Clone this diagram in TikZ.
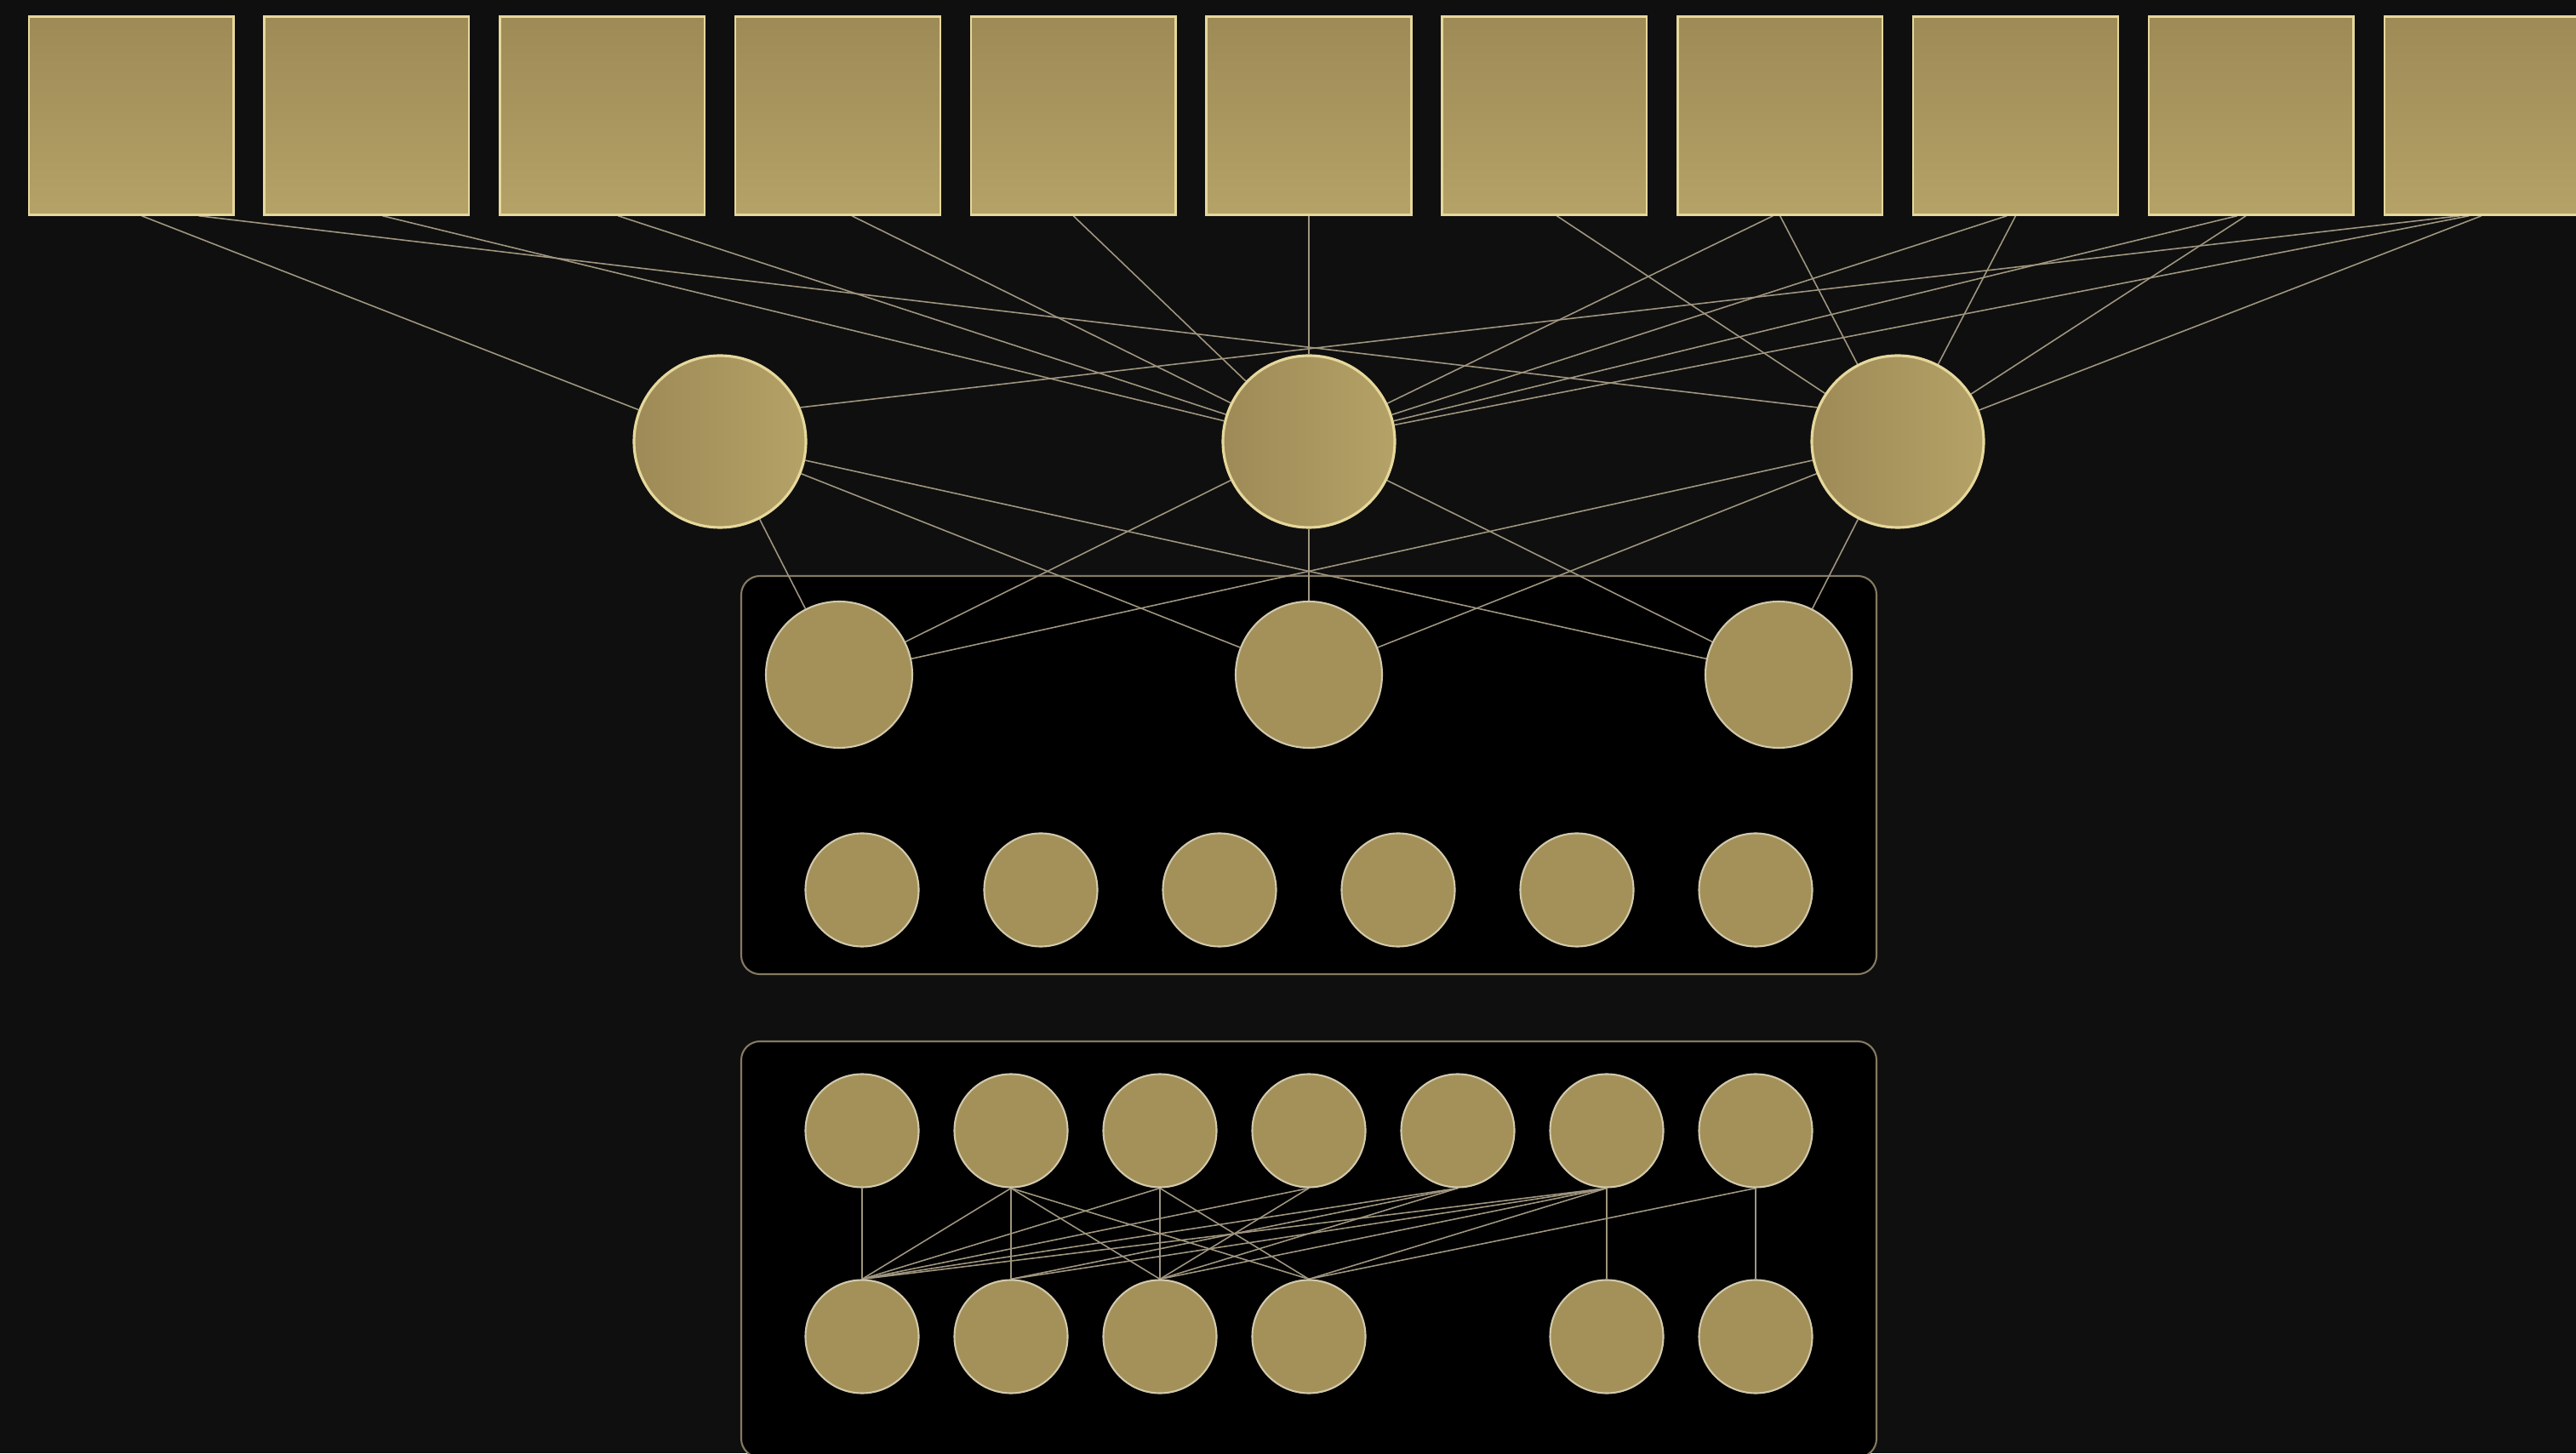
\documentclass[tikz,border=0pt]{standalone}
\usepackage{xcolor}
\usepackage{tikz}
\pgfdeclarelayer{bg}
\pgfdeclarelayer{wires}
\pgfsetlayers{bg,wires,main}
\definecolor{pagebg}{HTML}{0F0F0F}
\definecolor{goldtop}{HTML}{9E8A56}
\definecolor{goldbot}{HTML}{B4A267}
\definecolor{goldrim}{HTML}{E6D89C}
\definecolor{goldflat}{HTML}{A39159}
\definecolor{unitrim}{HTML}{D2C9AC}
\definecolor{wire}{HTML}{A0967F}
\definecolor{frame}{HTML}{857A62}

\begin{document}
\begin{tikzpicture}[
  pane/.style={rectangle, minimum width=2.406cm, minimum height=2.33cm, inner sep=0pt, top color=goldtop, bottom color=goldbot, draw=goldrim, line width=0.7pt},
  hub/.style={circle, minimum size=2.02cm, inner sep=0pt, left color=goldtop, right color=goldbot, draw=goldrim, line width=0.9pt},
  unit/.style={circle, minimum size=1.72cm, inner sep=0pt, fill=goldflat, draw=unitrim, line width=0.6pt},
  cell/.style={unit, minimum size=1.33cm},
  link/.style={draw=wire, line width=0.45pt},
  tray/.style={draw=frame, fill=black, rounded corners=0.22cm, line width=0.6pt}]
  \useasboundingbox (0,0) rectangle (30.27,17.08);
  \begin{pgfonlayer}{bg}
  \fill[pagebg] (0,0) rectangle (30.27,17.08);
  \draw[tray] (8.71,5.63) rectangle (22.05,10.31);
  \draw[tray] (8.71,-0.05) rectangle (22.05,4.84);
  \end{pgfonlayer}
  \node[pane] (s0) at (1.541,15.72) {};
  \node[pane] (s1) at (4.309,15.72) {};
  \node[pane] (s2) at (7.077,15.72) {};
  \node[pane] (s3) at (9.845,15.72) {};
  \node[pane] (s4) at (12.613,15.72) {};
  \node[pane] (s5) at (15.38,15.72) {};
  \node[pane] (s6) at (18.149,15.72) {};
  \node[pane] (s7) at (20.917,15.72) {};
  \node[pane] (s8) at (23.685,15.72) {};
  \node[pane] (s9) at (26.453,15.72) {};
  \node[pane] (s10) at (29.221,15.72) {};
  \node[hub] (a) at (8.46,11.89) {};
  \node[hub] (b) at (15.38,11.89) {};
  \node[hub] (c) at (22.30,11.89) {};
  \node[unit] (q1) at (9.86,9.15) {};
  \node[unit] (q2) at (15.38,9.15) {};
  \node[unit] (q3) at (20.90,9.15) {};
  \node[cell] (t1) at (10.13,6.62) {};
  \node[cell] (t2) at (12.23,6.62) {};
  \node[cell] (t3) at (14.33,6.62) {};
  \node[cell] (t4) at (16.43,6.62) {};
  \node[cell] (t5) at (18.53,6.62) {};
  \node[cell] (t6) at (20.63,6.62) {};
  \node[cell] (p1) at (10.13,3.79) {};
  \node[cell] (p2) at (11.88,3.79) {};
  \node[cell] (p3) at (13.63,3.79) {};
  \node[cell] (p4) at (15.38,3.79) {};
  \node[cell] (p5) at (17.13,3.79) {};
  \node[cell] (p6) at (18.88,3.79) {};
  \node[cell] (p7) at (20.63,3.79) {};
  \node[cell] (r1) at (10.13,1.37) {};
  \node[cell] (r2) at (11.88,1.37) {};
  \node[cell] (r3) at (13.63,1.37) {};
  \node[cell] (r4) at (15.38,1.37) {};
  \node[cell] (r6) at (18.88,1.37) {};
  \node[cell] (r7) at (20.63,1.37) {};
  \begin{pgfonlayer}{wires}
  \draw[link] (s0.-84) -- (a);
  \draw[link] (s0.-56) -- (c.157);
  \draw[link] (s1.-81) -- (b);
  \draw[link] (s2.-81) -- (b);
  \draw[link] (s3.-82) -- (b);
  \draw[link] (s4.south) -- (b);
  \draw[link] (s5.south) -- (b);
  \draw[link] (s6.-83) -- (c);
  \draw[link] (s7.-94) -- (b);
  \draw[link] (s7.south) -- (c);
  \draw[link] (s8.-95) -- (b);
  \draw[link] (s8.south) -- (c);
  \draw[link] (s9.-98) -- (b);
  \draw[link] (s9.-93) -- (c);
  \draw[link] (s10.-105) -- (a.23);
  \draw[link] (s10.-100) -- (b);
  \draw[link] (s10.-93) -- (c);
  \draw[link] (a) -- (q1);
  \draw[link] (a) -- (q2);
  \draw[link] (a) -- (q3);
  \draw[link] (b) -- (q1);
  \draw[link] (b) -- (q2);
  \draw[link] (b) -- (q3);
  \draw[link] (c) -- (q1);
  \draw[link] (c) -- (q2);
  \draw[link] (c) -- (q3);
  \draw[link] (p1) -- (r1);
  \draw[link] (p2) -- (r2);
  \draw[link] (p3) -- (r3);
  \draw[link] (p6) -- (r6);
  \draw[link] (p7) -- (r7);
  \draw[link] (p2.south) -- (r1.north);
  \draw[link] (p2.south) -- (r3.north);
  \draw[link] (p2.south) -- (r4.north);
  \draw[link] (p3.south) -- (r1.north);
  \draw[link] (p3.south) -- (r4.north);
  \draw[link] (p4.south) -- (r1.north);
  \draw[link] (p4.south) -- (r3.north);
  \draw[link] (p5.south) -- (r1.north);
  \draw[link] (p5.south) -- (r2.north);
  \draw[link] (p5.south) -- (r3.north);
  \draw[link] (p6.south) -- (r1.north);
  \draw[link] (p6.south) -- (r2.north);
  \draw[link] (p6.south) -- (r3.north);
  \draw[link] (p6.south) -- (r4.north);
  \draw[link] (p7.south) -- (r4.north);
  \end{pgfonlayer}
\end{tikzpicture}
\end{document}
